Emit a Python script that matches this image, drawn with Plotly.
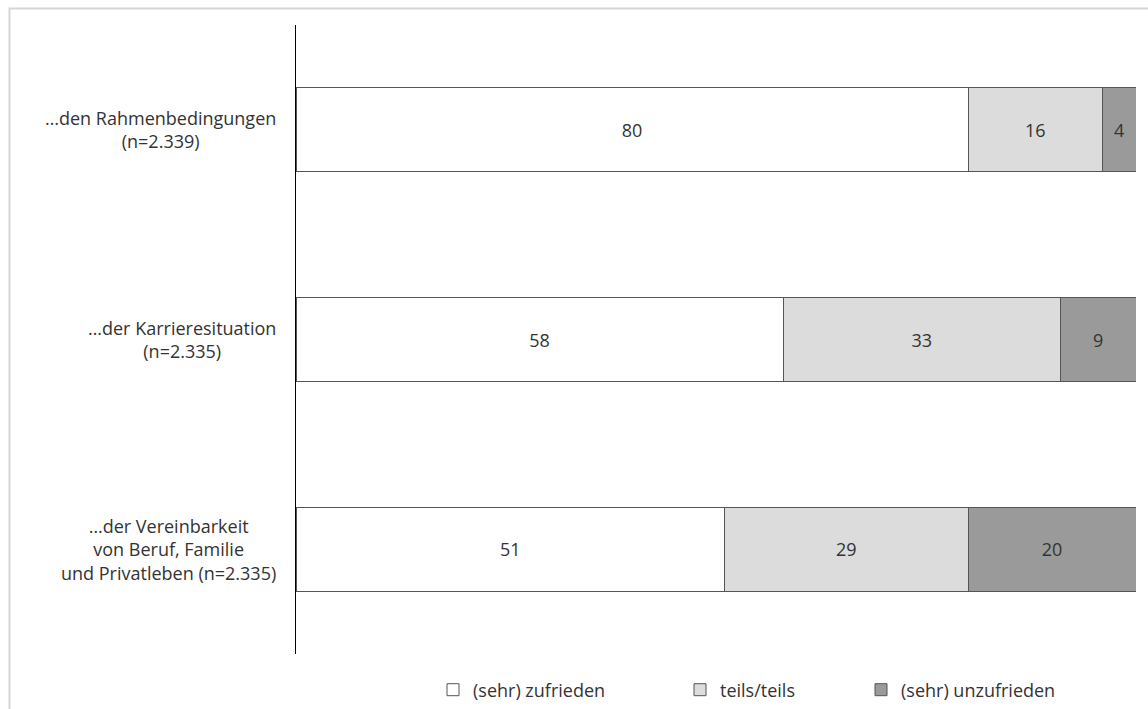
import plotly.graph_objects as go

categories = [
    "…den Rahmenbedingungen<br>(n=2.339)",
    "…der Karrieresituation<br>(n=2.335)",
    "…der Vereinbarkeit<br>von Beruf, Familie<br>und Privatleben (n=2.335)",
]
series_names = ["(sehr) zufrieden", "teils/teils", "(sehr) unzufrieden"]
zufrieden = [80, 58, 51]
teils = [16, 33, 29]
unzufrieden = [4, 9, 20]
colors = ["#ffffff", "#dcdcdc", "#9a9a9a"]

FONT = "Open Sans"
TXT = "#333333"

W, H = 1148, 709
ML, MR, MT, MB = 296, 12, 25, 55
PW, PH = W - ML - MR, H - MT - MB

def px_x(px):
    return (px - ML) / PW

def px_y(py):
    return (H - MB - py) / PH

fig = go.Figure()
legend_ids = ["legend", "legend2", "legend3"]
for name, vals, col, lg in zip(series_names, [zufrieden, teils, unzufrieden], colors, legend_ids):
    fig.add_trace(go.Bar(
        y=categories, x=vals, orientation="h", name=name,
        marker=dict(color=col, line=dict(color="#555555", width=1)),
        width=0.4,
        text=vals, textposition="inside", insidetextanchor="middle",
        textangle=0, constraintext="none",
        textfont=dict(family=FONT, size=18, color=TXT),
        legend=lg, hoverinfo="skip",
    ))

annotations = []
for c in categories:
    annotations.append(dict(
        x=0, xref="paper", y=c, yref="y", text=c, showarrow=False,
        xanchor="right", xshift=-18, align="center",
        font=dict(family=FONT, size=18, color=TXT),
    ))

legend_common = dict(orientation="h", yanchor="middle", xanchor="left",
                     font=dict(family=FONT, size=18, color=TXT),
                     bgcolor="rgba(0,0,0,0)", itemclick=False)

fig.update_layout(
    width=W, height=H,
    margin=dict(l=ML, r=MR, t=MT, b=MB, autoexpand=False),
    paper_bgcolor="white", plot_bgcolor="white",
    barmode="stack", bargap=0.6,
    showlegend=True,
    xaxis=dict(range=[0, 100], showticklabels=False, showgrid=False,
               zeroline=False, showline=False, fixedrange=True),
    yaxis=dict(autorange="reversed", showticklabels=False, showgrid=False,
               zeroline=False, showline=True, linecolor="#000000", linewidth=1,
               ticks="", fixedrange=True),
    legend=dict(x=px_x(433), y=px_y(690), **legend_common),
    legend2=dict(x=px_x(680), y=px_y(690), **legend_common),
    legend3=dict(x=px_x(861), y=px_y(690), **legend_common),
    annotations=annotations,
    shapes=[dict(type="rect", xref="paper", yref="paper",
                 x0=px_x(9.5), x1=px_x(1170), y0=px_y(730), y1=px_y(8.5),
                 line=dict(color="#d6d6d6", width=2), layer="below")],
)

fig.write_html("out.html", config={"displayModeBar": False},
               post_script="document.body.style.margin='0';document.body.style.overflow='hidden';")
